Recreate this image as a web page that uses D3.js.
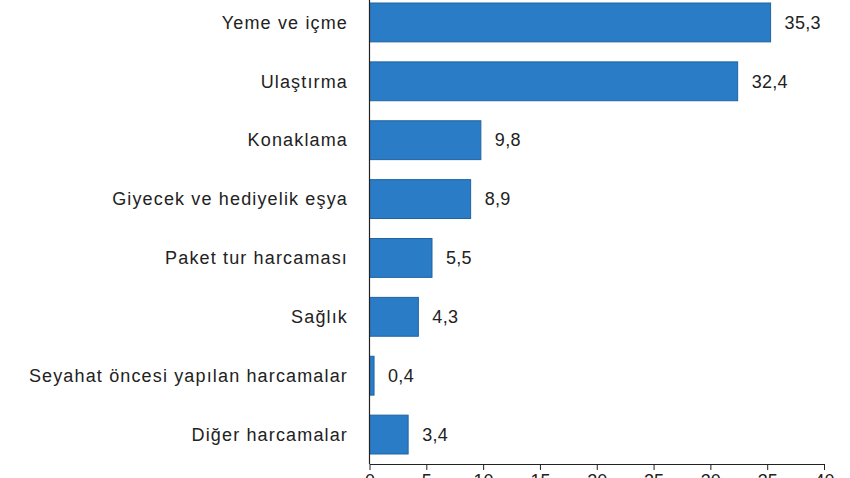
<script src="https://d3js.org/d3.v7.min.js"></script>
<style>
  body { margin: 0; background: #fff; }
  text { font-family: "Liberation Sans", Arial, sans-serif; }
</style>
<div id="vis"></div>
<script>
  // categories top to bottom and their shares (%)
  const categories = ["Yeme ve içme", "Ulaştırma", "Konaklama", "Giyecek ve hediyelik eşya",
    "Paket tur harcaması", "Sağlık", "Seyahat öncesi yapılan harcamalar", "Diğer harcamalar"]
  const values = [35.3, 32.4, 9.8, 8.9, 5.5, 4.3, 0.4, 3.4]
  const xTicks = [0, 5, 10, 15, 20, 25, 30, 35, 40]

  var svg = d3.select("#vis")
    .append("svg")
    .attr("width", 850)
    .attr("height", 478)

  var x = d3.scaleLinear().domain([0, 40]).range([369.5, 824])
  var y = d3.scaleBand().domain(categories).range([-7, 464])
    .paddingInner(0.34).paddingOuter(0.17)

  var fmt = function(v) { return String(v).replace(".", ",") }

  // bars
  svg.selectAll("rect.bar")
    .data(values)
    .enter()
    .append("rect")
      .attr("class", "bar")
      .attr("x", x(0))
      .attr("y", function(d, i) { return y(categories[i]) })
      .attr("width", function(d) { return x(d) - x(0) })
      .attr("height", y.bandwidth())
      .attr("fill", "#2a7cc6")
      .attr("stroke", "#1f64a3")
      .attr("stroke-width", 1)

  // value labels
  svg.selectAll("text.val")
    .data(values)
    .enter()
    .append("text")
      .attr("class", "val")
      .attr("x", function(d) { return x(d) + 14 })
      .attr("y", function(d, i) { return y(categories[i]) + y.bandwidth() / 2 })
      .attr("dy", "0.35em")
      .style("font-size", "18px")
      .style("letter-spacing", "0.3px")
      .style("fill", "#222")
      .text(fmt)

  // category labels
  svg.selectAll("text.cat")
    .data(categories)
    .enter()
    .append("text")
      .attr("class", "cat")
      .attr("x", 348)
      .attr("y", function(d) { return y(d) + y.bandwidth() / 2 })
      .attr("dy", "0.35em")
      .attr("text-anchor", "end")
      .style("font-size", "18px")
      .style("letter-spacing", "1.15px")
      .style("fill", "#222")
      .text(function(d) { return d })

  // vertical axis line
  svg.append("line")
    .attr("x1", x(0)).attr("x2", x(0))
    .attr("y1", 0).attr("y2", 464)
    .attr("stroke", "#222")
    .attr("stroke-width", 1.2)

  // bottom axis
  var xAxis = d3.axisBottom(x).tickValues(xTicks).tickSize(6).tickSizeOuter(0)
  var gx = svg.append("g")
    .attr("transform", "translate(0,464)")
    .call(xAxis)
  gx.select(".domain").attr("stroke", "#222").attr("stroke-width", 1.2)
  gx.selectAll(".tick line").attr("stroke", "#222")
  gx.selectAll(".tick text")
    .style("font-size", "18px")
    .style("fill", "#222")
    .attr("dy", "0.75em")
</script>
